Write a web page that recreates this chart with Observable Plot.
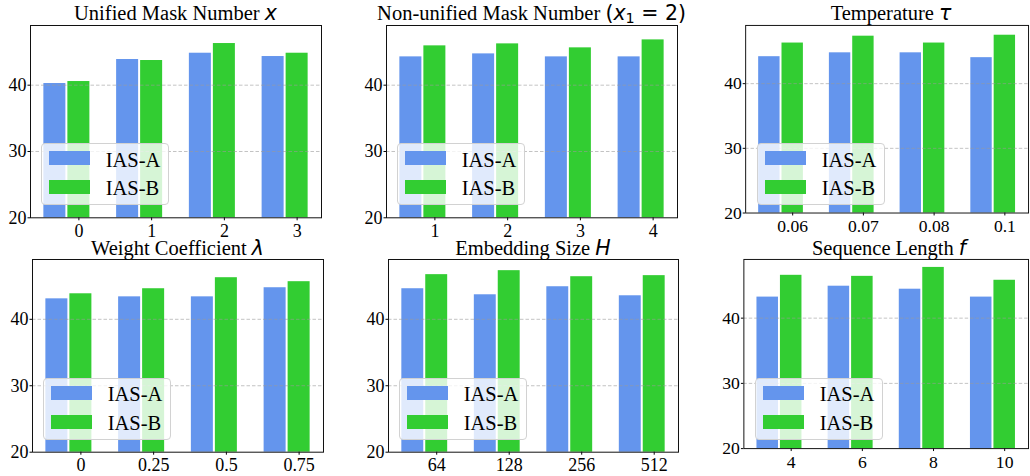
<!DOCTYPE html>
<html>
<head>
<meta charset="utf-8">
<script src="https://cdn.jsdelivr.net/npm/d3@7"></script>
<script src="https://cdn.jsdelivr.net/npm/@observablehq/plot@0.6"></script>
<style>
  body { margin: 0; background: #fff; }
  #root { position: relative; width: 1030px; height: 476px; overflow: hidden; background: #fff;
          font-family: "Liberation Serif", "Times New Roman", serif; }
  .panel { position: absolute; }
  .title { position: absolute; width: 600px; text-align: center; white-space: nowrap;
           font-size: 20.5px; line-height: 22px; color: #000; }
  .mi { font-family: "DejaVu Sans"; font-style: oblique; }
  .mr { font-family: "DejaVu Sans"; }
  .sub { font-family: "DejaVu Sans"; font-size: 0.7em; position: relative; top: 0.22em; }
  .legend { position: absolute; box-sizing: border-box; border: 1px solid #d2d2d2; border-radius: 4px;
            background: rgba(255,255,255,0.8); }
  .legend .patch { position: absolute; }
  .legend .lab { position: absolute; font-size: 20.5px; line-height: 20px; white-space: nowrap; color: #000; }
</style>
</head>
<body>
<div id="root"></div>
<script>
// ---- data ----
const seriesNames = ["IAS-A", "IAS-B"];
const seriesColors = ["#6495ED", "#32CD32"];

const cats1 = ["0", "1", "2", "3"];
const iasA1 = [40.25, 43.87, 44.82, 44.32];
const iasB1 = [40.55, 43.72, 46.28, 44.82];

const cats2 = ["1", "2", "3", "4"];
const iasA2 = [44.27, 44.72, 44.27, 44.27];
const iasB2 = [45.93, 46.23, 45.63, 46.83];

const cats3 = ["0.06", "0.07", "0.08", "0.1"];
const iasA3 = [44.17, 44.77, 44.77, 44.02];
const iasB3 = [46.28, 47.34, 46.28, 47.49];

const cats4 = ["0", "0.25", "0.5", "0.75"];
const iasA4 = [43.08, 43.38, 43.38, 44.75];
const iasB4 = [43.84, 44.60, 46.26, 45.66];

const cats5 = ["64", "128", "256", "512"];
const iasA5 = [44.60, 43.69, 44.90, 43.54];
const iasB5 = [46.72, 47.32, 46.41, 46.57];

const cats6 = ["4", "6", "8", "10"];
const iasA6 = [43.23, 44.90, 44.44, 43.23];
const iasB6 = [46.57, 46.41, 47.78, 45.81];

const yTicks = [20, 30, 40];
const yMin = 20, yMax = 49;

const titles = [
  'Unified Mask Number <span class="mi">x</span>',
  'Non-unified Mask Number <span class="mr">(</span><span class="mi">x</span><span class="sub">1</span><span class="mr"> = 2)</span>',
  'Temperature <span class="mi">τ</span>',
  'Weight Coefficient <span class="mi">λ</span>',
  'Embedding Size <span class="mi">H</span>',
  'Sequence Length <span class="mi">f</span>'
];

// ---- layout ----
const layout = [
  {left: 30,  top: 25,    w: 291, h: 192.3},
  {left: 386, top: 25,    w: 291, h: 192.3},
  {left: 746, top: 25,    w: 290, h: 192.3},
  {left: 32,  top: 259.3, w: 291, h: 192.7},
  {left: 388, top: 259.3, w: 290, h: 192.7},
  {left: 744, top: 259.3, w: 290, h: 192.7}
];
const panelsData = [
  [cats1, iasA1, iasB1], [cats2, iasA2, iasB2], [cats3, iasA3, iasB3],
  [cats4, iasA4, iasB4], [cats5, iasA5, iasB5], [cats6, iasA6, iasB6]
];

const barW = 0.33, tickOff = barW / 2;
const mL = 34, mR = 2, mT = 2, mB = 28;
const root = document.getElementById("root");

panelsData.forEach(([cats, a, b], p) => {
  const L = layout[p];
  const rows = cats.flatMap((c, i) => [
    {i, s: seriesNames[0], v: a[i]},
    {i, s: seriesNames[1], v: b[i]}
  ]);
  const chart = Plot.plot({
    width: L.w + mL + mR,
    height: L.h + mT + mB,
    marginLeft: mL, marginRight: mR, marginTop: mT, marginBottom: mB,
    style: {fontFamily: '"Liberation Serif", serif', fontSize: "18px", color: "#000", background: "transparent", overflow: "visible"},
    x: {type: "linear", domain: [-0.5, cats.length - 0.5], label: null},
    y: {domain: [yMin, yMax], label: null},
    color: {domain: seriesNames, range: seriesColors},
    marks: [
      Plot.rectY(rows, {
        x1: d => d.s === seriesNames[0] ? d.i - barW : d.i,
        x2: d => d.s === seriesNames[0] ? d.i : d.i + barW,
        y1: yMin, y2: "v", fill: "s", insetLeft: 1, insetRight: 1
      }),
      Plot.gridY(yTicks.filter(t => t > yMin), {stroke: "#9a9a9a", strokeOpacity: 0.6, strokeDasharray: "3.5,2", strokeWidth: 1}),
      Plot.axisY({ticks: yTicks, tickSize: 2.5, tickPadding: 1.5, tickFormat: d => String(d), label: null}),
      Plot.axisX({ticks: cats.map((c, i) => i + tickOff), tickFormat: d => cats[Math.round(d - tickOff)], tickSize: 3, tickPadding: 3.5, label: null}),
      Plot.frame({stroke: "#111", strokeWidth: 1})
    ]
  });
  const holder = document.createElement("div");
  holder.className = "panel";
  holder.style.left = (L.left - mL) + "px";
  holder.style.top = (L.top - mT) + "px";
  holder.appendChild(chart);
  root.appendChild(holder);

  // title
  const t = document.createElement("div");
  t.className = "title";
  t.innerHTML = titles[p];
  t.style.left = (L.left + L.w / 2 - 300) + "px";
  t.style.top = (L.top - 5 - 17.75) + "px";
  root.appendChild(t);

  // legend (inside the plot, lower left)
  const lg = document.createElement("div");
  lg.className = "legend";
  const lgW = 128, lgH = 62;
  lg.style.left = (L.left + 11) + "px";
  lg.style.top = (L.top + L.h - 12.3 - lgH) + "px";
  lg.style.width = lgW + "px";
  lg.style.height = lgH + "px";
  seriesNames.forEach((name, k) => {
    const patch = document.createElement("div");
    patch.className = "patch";
    patch.style.left = "7px";
    patch.style.top = (7.4 + k * 29) + "px";
    patch.style.width = "41px";
    patch.style.height = "14px";
    patch.style.background = seriesColors[k];
    lg.appendChild(patch);
    const lab = document.createElement("div");
    lab.className = "lab";
    lab.textContent = name;
    lab.style.left = "63.7px";
    lab.style.top = (5.5 + k * 28.8) + "px";
    lg.appendChild(lab);
  });
  root.appendChild(lg);
});
</script>
</body>
</html>
